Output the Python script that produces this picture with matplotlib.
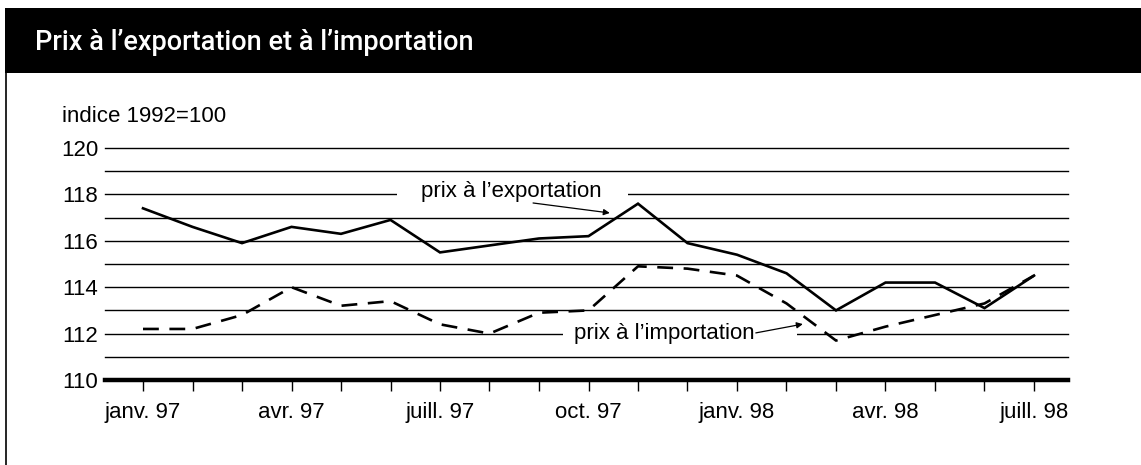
import matplotlib
matplotlib.use('Agg')
import matplotlib.pyplot as plt
from matplotlib.patches import Rectangle
from matplotlib.lines import Line2D

# monthly index, janv. 97 -> juill. 98 (1992 = 100)
months = ['janv. 97', 'févr. 97', 'mars 97', 'avr. 97', 'mai 97', 'juin 97',
          'juill. 97', 'août 97', 'sept. 97', 'oct. 97', 'nov. 97', 'déc. 97',
          'janv. 98', 'févr. 98', 'mars 98', 'avr. 98', 'mai 98', 'juin 98',
          'juill. 98']
exports = [117.4, 116.6, 115.9, 116.6, 116.3, 116.9, 115.5, 115.8, 116.1, 116.2,
           117.6, 115.9, 115.4, 114.6, 113.0, 114.2, 114.2, 113.1, 114.5]
imports = [112.2, 112.2, 112.8, 114.0, 113.2, 113.4, 112.4, 112.0, 112.9, 113.0,
           114.9, 114.8, 114.5, 113.3, 111.7, 112.3, 112.8, 113.3, 114.5]
y_ticks = [110, 112, 114, 116, 118, 120]

title = "Prix à l\u2019exportation et à l\u2019importation"
unit_label = 'indice 1992=100'
font = ['Liberation Sans', 'DejaVu Sans']
fs = 16

W, H = 1141, 465
fig = plt.figure(figsize=(W / 100, H / 100), dpi=100)

# black title bar and thin left border
fig.add_artist(Rectangle((5 / W, (H - 73) / H), 1 - 5 / W, 65 / H,
                         transform=fig.transFigure, color='black', lw=0))
fig.add_artist(Line2D([5.5 / W, 5.5 / W], [0, (H - 73) / H],
                      transform=fig.transFigure, color='black', lw=1.2))
fig.text(35 / W, (H - 42) / H, title, color='white', fontsize=19.5,
         fontweight='medium', va='center', ha='left',
         family=['Roboto', 'Liberation Sans', 'DejaVu Sans'])
fig.text(62 / W, (H - 117) / H, unit_label, fontsize=fs, va='center',
         ha='left', family=font)

ax = fig.add_axes([105 / W, (H - 380) / H, (1068 - 105) / W, (380 - 148) / H])
x = list(range(len(months)))
ax.set_xlim(-38 / 49.5, (1068 - 143) / 49.5)
ax.set_ylim(110, 120)

for v in range(111, 121):
    ax.axhline(v, color='black', lw=1.0, zorder=1, clip_on=False)
ax.axhline(110, color='black', lw=3.2, zorder=4, clip_on=False)

ax.plot(x, exports, color='black', lw=1.9, zorder=3, solid_joinstyle='miter')
ax.plot(x, imports, color='black', lw=1.9, dashes=(6, 4), zorder=3)

# gaps in the grid behind the labels
ax.add_patch(Rectangle((5.13, 117.6), 4.67, 0.8, color='white', lw=0, zorder=1.5))
ax.add_patch(Rectangle((8.48, 111.6), 4.74, 0.8, color='white', lw=0, zorder=1.5))

ax.text(7.44, 118.12, 'prix à l\u2019exportation', fontsize=fs, ha='center',
        va='center', family=font, zorder=5)
ax.annotate('', xy=(9.43, 117.2), xytext=(7.88, 117.63),
            arrowprops=dict(arrowstyle='-|>', color='black', lw=0.9,
                            mutation_scale=9, shrinkA=0, shrinkB=0), zorder=5)
ax.text(10.53, 112.0, 'prix à l\u2019importation', fontsize=fs, ha='center',
        va='center', family=font, zorder=5)
ax.annotate('', xy=(13.33, 112.41), xytext=(12.38, 112.03),
            arrowprops=dict(arrowstyle='-|>', color='black', lw=0.9,
                            mutation_scale=9, shrinkA=0, shrinkB=0), zorder=5)

for s in ax.spines.values():
    s.set_visible(False)
ax.set_xticks(x)
ax.set_xticklabels([m if i % 3 == 0 else '' for i, m in enumerate(months)],
                   fontsize=fs, family=font)
ax.tick_params(axis='x', direction='out', length=8, width=1.0, pad=8)
ax.set_yticks(y_ticks)
ax.set_yticklabels([str(v) for v in y_ticks], fontsize=fs, family=font)
ax.tick_params(axis='y', length=0, pad=5)

fig.savefig('out.png', dpi=100)
